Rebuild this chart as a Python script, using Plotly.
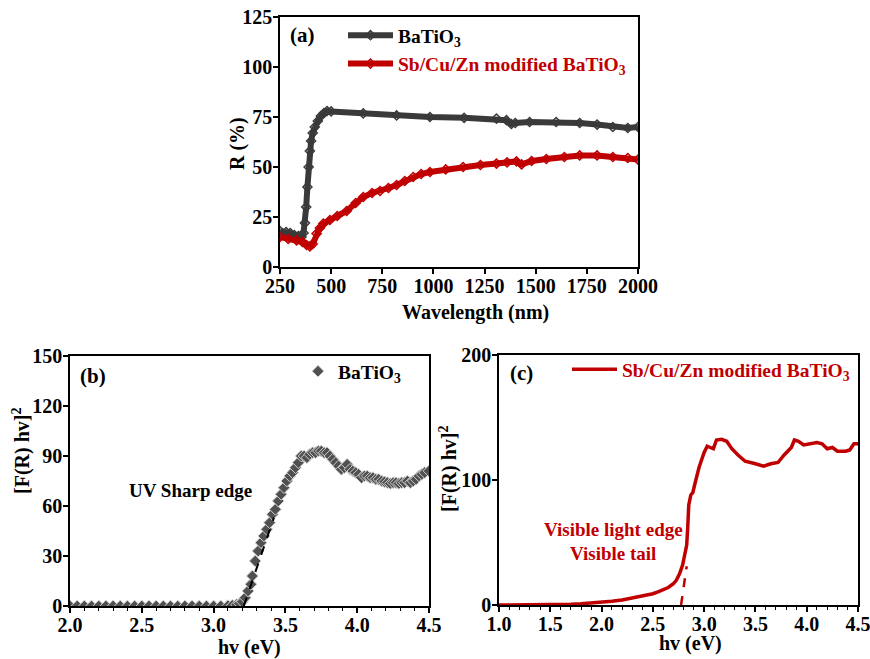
import plotly.graph_objects as go

# ---------- Panel (a): reflectance ----------
wl_bto = [250, 280, 300, 320, 340, 355, 365, 372, 378, 384, 390, 396, 402, 410, 420, 435, 450, 465, 480,
          500, 657, 820, 983, 1150, 1308, 1357, 1381, 1400, 1470, 1600, 1715, 1800, 1877, 1950, 2000]
r_bto = [18, 17.5, 17, 16, 15.5, 15, 17, 22, 30, 40, 50, 58, 63, 67, 70, 73, 75.5, 77, 78,
         77.8, 76.8, 75.8, 75, 74.6, 74.2, 73.4, 71.5, 72, 72.5, 72.5, 72, 71.2, 70, 69.5, 70]

wl_mod = [250, 290, 331, 360, 380, 396, 410, 429, 445, 462, 494, 530, 576, 620, 657, 700, 739, 780, 820,
          860, 901, 940, 983, 1060, 1145, 1230, 1308, 1360, 1406, 1431, 1480, 1552, 1640, 1715, 1800, 1877, 1950, 2000]
r_mod = [15, 14, 13.3, 12.5, 11, 10.3, 11.5, 16.7, 19.5, 21.7, 23.5, 25.5, 28, 32, 35, 37, 38, 39.5, 41,
         43, 45, 46.5, 47.5, 48.8, 50, 51, 51.7, 52.3, 52.8, 51.3, 53, 54, 55, 55.8, 55.8, 55, 54.5, 53.7]

# ---------- Panel (b): BaTiO3 Kubelka-Munk ----------
hv_b = [2.0, 2.05, 2.1, 2.15, 2.2, 2.25, 2.3, 2.35, 2.4, 2.45, 2.5, 2.55, 2.6, 2.65, 2.7, 2.75, 2.8,
        2.85, 2.9, 2.95, 3.0, 3.05, 3.1, 3.13, 3.16, 3.18, 3.2, 3.22, 3.24, 3.26, 3.27, 3.29, 3.31, 3.33,
        3.35, 3.37, 3.39, 3.41, 3.43, 3.45, 3.47, 3.49, 3.51, 3.53, 3.55, 3.57, 3.59, 3.61, 3.63, 3.65,
        3.67, 3.69, 3.71, 3.73, 3.75, 3.77, 3.79, 3.81, 3.83, 3.85, 3.87, 3.89, 3.91, 3.93, 3.95, 3.97,
        3.99, 4.01, 4.03, 4.05, 4.07, 4.09, 4.11, 4.13, 4.15, 4.17, 4.19, 4.21, 4.23, 4.25, 4.27, 4.29,
        4.31, 4.33, 4.35, 4.37, 4.39, 4.41, 4.43, 4.45, 4.47, 4.5]
f_b = [0, 0, 0, 0, 0, 0, 0, 0, 0, 0, 0, 0, 0, 0, 0, 0, 0,
       0, 0, 0, 0, 0, 0.2, 0.4, 0.8, 1.5, 2.5, 5, 9, 13, 18, 27, 33, 38,
       42, 46, 50, 55, 58, 63, 67, 71, 75, 78, 80, 83, 86, 90, 90, 89,
       91, 92, 92, 93, 93, 92, 92, 90, 88, 86, 84, 82, 83, 85, 82, 81,
       80, 79, 77, 78, 78, 77, 77, 76, 76, 75, 74.5, 74, 73.5, 74, 74, 73.5,
       74, 74, 75, 74, 75, 76, 78, 79, 80, 81]
tang_b_x = [3.21, 3.42]
tang_b_y = [0, 53]

# ---------- Panel (c): modified BaTiO3 ----------
hv_c = [1.0, 1.3, 1.5, 1.7, 1.8, 1.9, 2.0, 2.1, 2.2, 2.3, 2.4, 2.5, 2.55, 2.6, 2.65, 2.7, 2.73, 2.76,
        2.79, 2.81, 2.83, 2.84, 2.85, 2.87, 2.89, 2.91, 2.95, 3.0, 3.03, 3.06, 3.09, 3.12, 3.17, 3.22,
        3.27, 3.33, 3.4, 3.5, 3.58, 3.65, 3.72, 3.78, 3.85, 3.88, 3.92, 3.97, 4.03, 4.1, 4.15, 4.2,
        4.25, 4.3, 4.38, 4.42, 4.46, 4.5]
f_c = [0, 0.1, 0.3, 0.6, 1, 1.5, 2, 3, 4, 5.5, 7, 9, 10.5, 12, 14, 17, 20, 25,
       32, 40, 48, 62, 80, 88, 90, 97, 110, 122, 127, 126, 125, 132, 132.5, 131,
       125, 120, 115, 113, 111, 113, 114, 120, 126, 132, 131, 128, 129, 130, 129, 125,
       126, 123, 123, 124, 129, 129]
tang_c_x = [2.775, 2.83]
tang_c_y = [0, 31]

BLACK = "#3a3a3a"
RED = "#c00000"
FONT = "Liberation Serif"
FS = 20

fig = go.Figure()

fig.add_trace(go.Scatter(x=wl_bto, y=r_bto, mode="lines+markers", name="BaTiO<sub>3</sub>",
                         line=dict(color=BLACK, width=6),
                         marker=dict(symbol="diamond-open", size=7, color=BLACK, line=dict(width=1.5)),
                         xaxis="x", yaxis="y", legend="legend"))
fig.add_trace(go.Scatter(x=wl_mod, y=r_mod, mode="lines+markers",
                         name=f"<span style='color:{RED}'>Sb/Cu/Zn modified BaTiO<sub>3</sub></span>",
                         line=dict(color=RED, width=6),
                         marker=dict(symbol="diamond-open", size=7, color=RED, line=dict(width=1.5)),
                         xaxis="x", yaxis="y", legend="legend"))

fig.add_trace(go.Scatter(x=hv_b, y=f_b, mode="markers", name="BaTiO<sub>3</sub>",
                         marker=dict(symbol="diamond", size=9, color="#505050",
                                     line=dict(color="#d0d0d0", width=1)),
                         xaxis="x2", yaxis="y2", legend="legend2"))
fig.add_trace(go.Scatter(x=tang_b_x, y=tang_b_y, mode="lines", showlegend=False,
                         line=dict(color="black", width=2, dash="dash"),
                         xaxis="x2", yaxis="y2"))

fig.add_trace(go.Scatter(x=hv_c, y=f_c, mode="lines",
                         name=f"<span style='color:{RED}'>Sb/Cu/Zn modified BaTiO<sub>3</sub></span>",
                         line=dict(color=RED, width=3.5),
                         xaxis="x3", yaxis="y3", legend="legend3"))
fig.add_trace(go.Scatter(x=tang_c_x, y=tang_c_y, mode="lines", showlegend=False,
                         line=dict(color=RED, width=2.5, dash="dash"),
                         xaxis="x3", yaxis="y3"))

W, H = 870, 659
def px(x): return x / W
def py(y): return 1 - y / H

axis_common = dict(showline=True, linecolor="black", linewidth=1.5, mirror=True,
                   ticks="outside", ticklen=5, tickwidth=1.5, tickcolor="black",
                   showgrid=False, zeroline=False, automargin=False,
                   ticklabeloverflow="allow",
                   tickfont=dict(family=FONT, size=FS, color="black", weight="bold"))
xax = dict(axis_common, ticklabelstandoff=-5)
yax = dict(axis_common, ticklabelstandoff=-3)

legfont = dict(family=FONT, size=19.5, color="black", weight="bold")

def note(text, x, y, color="black", size=19, angle=0):
    return dict(text=text, x=px(x), y=py(y), xref="paper", yref="paper", showarrow=False,
                xanchor="center", yanchor="middle", textangle=angle,
                font=dict(family=FONT, size=size, color=color, weight="bold"))

fig.update_layout(
    template="none",
    width=W, height=H, margin=dict(l=0, r=0, t=0, b=0, autoexpand=False),
    plot_bgcolor="white", paper_bgcolor="white",
    font=dict(family=FONT, size=FS, color="black", weight="bold"),
    xaxis=dict(domain=[px(280), px(638)], anchor="y", range=[250, 2000],
               tickvals=[250, 500, 750, 1000, 1250, 1500, 1750, 2000], **xax),
    yaxis=dict(domain=[py(267), py(17)], anchor="x", range=[0, 125],
               tickvals=[0, 25, 50, 75, 100, 125], **yax),
    xaxis2=dict(domain=[px(70), px(429)], anchor="y2", range=[2.0, 4.5],
                tickvals=[2.0, 2.5, 3.0, 3.5, 4.0, 4.5], tickformat=".1f",
                minor=dict(dtick=0.1, ticks="outside", ticklen=3, tickwidth=1, tickcolor="black"),
                **xax),
    yaxis2=dict(domain=[py(606), py(356)], anchor="x2", range=[0, 150],
                tickvals=[0, 30, 60, 90, 120, 150], **yax),
    xaxis3=dict(domain=[px(499), px(858)], anchor="y3", range=[1.0, 4.5],
                tickvals=[1.0, 1.5, 2.0, 2.5, 3.0, 3.5, 4.0, 4.5], tickformat=".1f",
                minor=dict(dtick=0.1, ticks="outside", ticklen=3, tickwidth=1, tickcolor="black"),
                **xax),
    yaxis3=dict(domain=[py(605), py(355)], anchor="x3", range=[0, 200],
                tickvals=[0, 100, 200], **yax),
    legend=dict(x=px(343), y=py(16), xanchor="left", yanchor="top", bgcolor="rgba(0,0,0,0)",
                font=legfont, itemwidth=45, tracegroupgap=0),
    legend2=dict(x=px(298), y=py(352), xanchor="left", yanchor="top", bgcolor="rgba(0,0,0,0)",
                 font=legfont),
    legend3=dict(x=px(567), y=py(350), xanchor="left", yanchor="top", bgcolor="rgba(0,0,0,0)",
                 font=legfont, itemwidth=45),
    annotations=[
        note("(a)", 302, 35, size=21),
        note("(b)", 93, 376, size=21),
        note("(c)", 521, 373, size=21),
        note("UV Sharp edge", 190, 491),
        note("Visible light edge", 613, 529, color=RED),
        note("Visible tail", 613, 553, color=RED),
        note("Wavelength (nm)", 475, 313, size=FS),
        note("R (%)", 237, 144, size=FS, angle=-90),
        note("hv (eV)", 250, 647, size=FS),
        note("[F(R) hv]<sup>2</sup>", 21, 451, size=FS, angle=-90),
        note("hv (eV)", 690, 643, size=FS),
        note("[F(R) hv]<sup>2</sup>", 448, 469, size=FS, angle=-90),
    ],
)

fig.write_html("out.html", config={"displayModeBar": False},
               post_script="document.body.style.margin='0px';")
